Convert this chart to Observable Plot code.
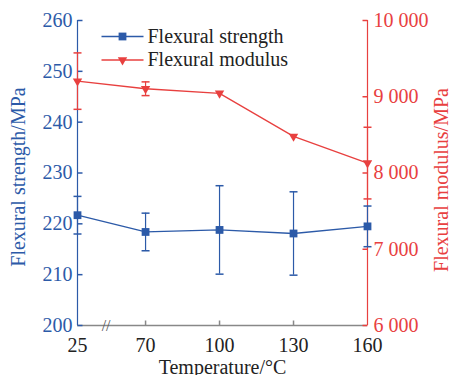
<!DOCTYPE html>
<html><head><meta charset="utf-8">
<script src="https://cdn.jsdelivr.net/npm/d3@7"></script>
<script src="https://cdn.jsdelivr.net/npm/@observablehq/plot@0.6"></script>
<style>
body{margin:0;background:#fff;}
#chart{width:451px;height:375px;overflow:hidden;}
#chart svg text{font-family:"Liberation Serif","Times New Roman",serif;}
</style></head><body><div id="chart"></div>
<script>
const temperatures = [25, 70, 100, 130, 160];
const strength = [221.7, 218.4, 218.8, 218.1, 219.5];
const strengthErr = [3.7, 3.7, 8.7, 8.2, 4.0];
const modulus = [9205, 9105, 9045, 8480, 8130];
const modulusErr = [370, 90, 0, 0, 470];
const strengthTicks = [200, 210, 220, 230, 240, 250, 260];
const modulusTicks = [6000, 7000, 8000, 9000, 10000];
const tempTicks = [25, 70, 100, 130, 160];
const seriesNames = ["Flexural strength", "Flexural modulus"];

const BLUE = "#2c5aa8", RED = "#e8403f", GRAY = "#888";
const FONT = "Liberation Serif, Times New Roman, serif";

// broken x axis: 25 sits a bit closer to 70
const xPos = t => t === 25 ? 42.4 : t;
// modulus mapped onto strength scale (6000..10000 -> 200..260)
const mToS = m => 200 + (m - 6000) * 60 / 4000;
const sToM = s => Math.round(6000 + (s - 200) * 4000 / 60);
const fmtM = m => d3.format(",")(m).replace(/,/g, " ");

const rows = temperatures.map((t, i) => ({
  x: xPos(t), s: strength[i], slo: strength[i] - strengthErr[i], shi: strength[i] + strengthErr[i],
  m: mToS(modulus[i]), mlo: mToS(modulus[i] - modulusErr[i]), mhi: mToS(modulus[i] + modulusErr[i]), me: modulusErr[i]
}));
const mErrRows = rows.filter(d => d.me > 0);

const sym = (x0, y0, x1, y1) => ({draw(ctx) { ctx.moveTo(x0, y0); ctx.lineTo(x1, y1); }});
const cap = sym(-4, 0, 4, 0);
const tickR = sym(0, 0, 5, 0);
const tickL = sym(0, 0, -5, 0);
const tickU = sym(0, 0, 0, -5);
const legendLine = sym(-21, 0, 21, 0);

const xMin = xPos(25), xMax = 160;
const FS = 20;

const chart = Plot.plot({
  width: 451, height: 375,
  marginLeft: 77, marginRight: 84, marginTop: 20, marginBottom: 50,
  style: {fontFamily: FONT, fontSize: "20px", background: "#fff"},
  x: {domain: [xMin, xMax]},
  y: {domain: [200, 260]},
  marks: [
    // axis lines
    Plot.ruleY([200], {stroke: GRAY, strokeWidth: 1.5}),
    Plot.ruleX([xMin], {stroke: BLUE, strokeWidth: 1.2}),
    Plot.ruleX([xMax], {stroke: RED, strokeWidth: 1.2}),
    // inward ticks
    Plot.dot(strengthTicks, {x: xMin, y: d => d, symbol: tickR, stroke: BLUE, fill: "none", r: 3}),
    Plot.dot(modulusTicks.map(mToS), {x: xMax, y: d => d, symbol: tickL, stroke: RED, fill: "none", r: 3}),
    Plot.dot(tempTicks.slice(1, -1).map(xPos), {x: d => d, y: 200, symbol: tickU, stroke: GRAY, strokeWidth: 1.5, fill: "none", r: 3}),
    // axis break
    Plot.text(["//"], {x: 54, y: 200, fill: "#555", fontSize: 16, fontFamily: FONT}),
    // axes labels
    Plot.axisY(strengthTicks, {anchor: "left", tickSize: 0, tickPadding: 5, color: BLUE, fontSize: FS, fontFamily: FONT, label: null}),
    Plot.axisY(modulusTicks.map(mToS), {anchor: "right", tickSize: 0, tickPadding: 6, color: RED, fontSize: FS, fontFamily: FONT, label: null,
      tickFormat: s => fmtM(sToM(s))}),
    Plot.axisX(tempTicks.map(xPos), {anchor: "bottom", tickSize: 0, tickPadding: 12, color: "#222", fontSize: FS, fontFamily: FONT, label: null,
      tickFormat: p => String(tempTicks[tempTicks.map(xPos).indexOf(p)])}),
    Plot.text(["Flexural strength/MPa"], {frameAnchor: "left", textAnchor: "middle", lineAnchor: "middle", rotate: -90, dx: -59, dy: 4, fill: BLUE, fontSize: FS, fontFamily: FONT}),
    Plot.text(["Flexural modulus/MPa"], {frameAnchor: "right", textAnchor: "middle", lineAnchor: "middle", rotate: -90, dx: 74, dy: 7, fill: RED, fontSize: FS, fontFamily: FONT}),
    Plot.text(["Temperature/°C"], {frameAnchor: "bottom", textAnchor: "middle", lineAnchor: "middle", dy: 42, fill: "#222", fontSize: FS, fontFamily: FONT}),
    // strength error bars
    Plot.ruleX(rows, {x: "x", y1: "slo", y2: "shi", stroke: BLUE, strokeWidth: 1.2}),
    Plot.dot(rows, {x: "x", y: "slo", symbol: cap, stroke: BLUE, fill: "none", r: 3}),
    Plot.dot(rows, {x: "x", y: "shi", symbol: cap, stroke: BLUE, fill: "none", r: 3}),
    // modulus error bars
    Plot.ruleX(mErrRows, {x: "x", y1: "mlo", y2: "mhi", stroke: RED, strokeWidth: 1.2}),
    Plot.dot(mErrRows, {x: "x", y: "mlo", symbol: cap, stroke: RED, fill: "none", r: 3}),
    Plot.dot(mErrRows, {x: "x", y: "mhi", symbol: cap, stroke: RED, fill: "none", r: 3}),
    // lines + markers
    Plot.line(rows, {x: "x", y: "s", stroke: BLUE, strokeWidth: 1.3}),
    Plot.line(rows, {x: "x", y: "m", stroke: RED, strokeWidth: 1.3}),
    Plot.dot(rows, {x: "x", y: "s", symbol: "square", fill: BLUE, r: 4.4}),
    Plot.dot(rows, {x: "x", y: "m", symbol: "triangle", rotate: 180, fill: RED, r: 3.5}),
    // legend
    Plot.dot([0], {frameAnchor: "top-left", dx: 45, dy: 16, symbol: legendLine, stroke: BLUE, strokeWidth: 1.3, fill: "none", r: 3}),
    Plot.dot([0], {frameAnchor: "top-left", dx: 45, dy: 16, symbol: "square", fill: BLUE, r: 4.4}),
    Plot.dot([0], {frameAnchor: "top-left", dx: 45, dy: 39.5, symbol: legendLine, stroke: RED, strokeWidth: 1.3, fill: "none", r: 3}),
    Plot.dot([0], {frameAnchor: "top-left", dx: 45, dy: 39.5, symbol: "triangle", rotate: 180, fill: RED, r: 3.5}),
    Plot.text([seriesNames[0]], {frameAnchor: "top-left", dx: 70, dy: 16, textAnchor: "start", lineAnchor: "middle", fill: "#222", fontSize: FS, fontFamily: FONT}),
    Plot.text([seriesNames[1]], {frameAnchor: "top-left", dx: 70, dy: 39.5, textAnchor: "start", lineAnchor: "middle", fill: "#222", fontSize: FS, fontFamily: FONT})
  ]
});
document.getElementById("chart").append(chart);
</script>
</body></html>
